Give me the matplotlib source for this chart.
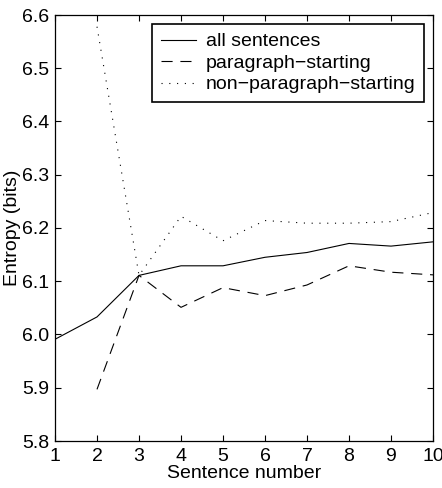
import matplotlib
matplotlib.use("Agg")
import matplotlib.pyplot as plt

plt.rcParams['font.family'] = ['Liberation Sans', 'DejaVu Sans']

sentence = [1, 2, 3, 4, 5, 6, 7, 8, 9, 10]
all_sent = [5.991, 6.033, 6.111, 6.129, 6.129, 6.145, 6.154, 6.171, 6.166, 6.174]
para_x = [2, 3, 4, 5, 6, 7, 8, 9, 10]
para_start = [5.897, 6.111, 6.051, 6.088, 6.073, 6.093, 6.129, 6.117, 6.112]
nonpara_x = [2, 3, 4, 5, 6, 7, 8, 9, 10]
nonpara_start = [6.578, 6.111, 6.222, 6.176, 6.214, 6.209, 6.209, 6.212, 6.229]

yticks = [5.8, 5.9, 6.0, 6.1, 6.2, 6.3, 6.4, 6.5, 6.6]

fig = plt.figure(figsize=(4.42, 4.88), dpi=100)
ax = fig.add_axes([55/442, 47/488, 378/442, 426/488])

ax.plot(sentence, all_sent, color='black', lw=0.8, ls='-', label='all sentences')
ax.plot(para_x, para_start, color='black', lw=0.8, ls=(0, (10, 7)), label='paragraph\u2212starting')
ax.plot(nonpara_x, nonpara_start, color='black', lw=0.8, ls=(0, (1, 6)), label='non\u2212paragraph\u2212starting')

ax.set_xlim(1, 10)
ax.set_ylim(5.8, 6.6)
ax.set_xticks(sentence)
ax.set_yticks(yticks)
ax.set_yticklabels([f"{v:.1f}" for v in yticks])
ax.tick_params(direction='in', top=True, right=True, labelsize=14, length=4, width=0.8)
ax.tick_params(axis='x', pad=5)
ax.tick_params(axis='y', pad=4)
for s in ax.spines.values():
    s.set_linewidth(0.9)

ax.set_xlabel('Sentence number', fontsize=14, labelpad=0)
ax.set_ylabel('Entropy (bits)', fontsize=14, labelpad=1)

leg = ax.legend(loc='upper right', bbox_to_anchor=((424 - 55) / 378, 1 - 9/426), fontsize=14,
                frameon=True, fancybox=False, edgecolor='black', framealpha=1,
                handlelength=1.8, labelspacing=0.2, borderpad=0.45, handletextpad=0.5, borderaxespad=0)
leg.get_frame().set_linewidth(1.2)

fig.savefig('out.png', dpi=100)
